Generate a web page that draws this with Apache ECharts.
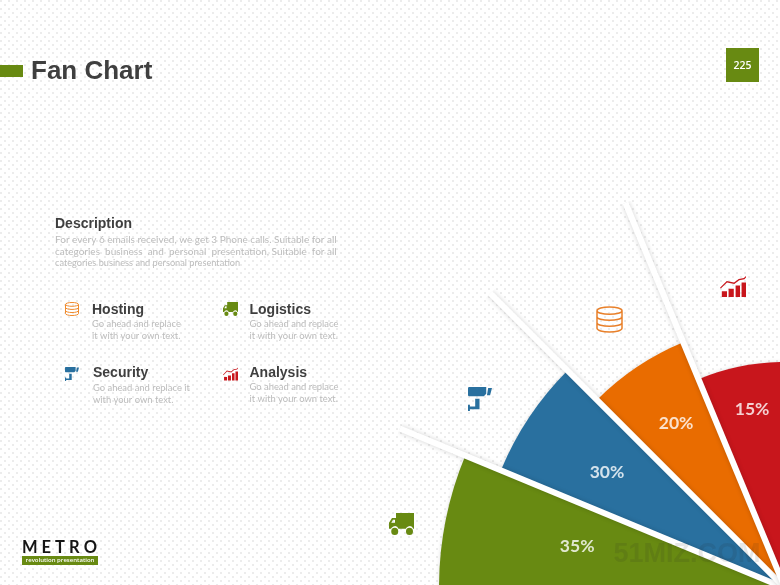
<!DOCTYPE html>
<html>
<head>
<meta charset="utf-8">
<script src="https://cdn.jsdelivr.net/npm/echarts@6/dist/echarts.min.js"></script>
<style>
html,body{margin:0;padding:0;width:780px;height:585px;overflow:hidden;background-color:#fff;
background-image:radial-gradient(circle at 1px 1px,#ececec 0.9px,transparent 1.1px),radial-gradient(circle at 1px 1px,#ececec 0.9px,transparent 1.1px);
background-size:8px 8px,8px 8px;background-position:0 0,4px 4px;}
#c{width:780px;height:585px;}
</style>
</head>
<body>
<div id="c"></div>
<script>
var categories = ['Logistics', 'Security', 'Hosting', 'Analysis'];
var percentages = [35, 30, 20, 15];
var fanLengths = [346, 307.5, 266, 226];
var fanColors = ['#688a12', '#29709f', '#e96c00', '#c8161c'];
var separatorAngles = [22.5, 45, 67.5];
var separatorLength = 417;
var labelRadii = [212, 212.5, 197.8, 182];
var labelAngles = [11.4, 33.1, 56.6, 79.6];
var titleText = 'Fan Chart';
var pageNumber = '225';
var descriptionTitle = 'Description';
var descriptionLines = [
  'For every 6 emails received, we get 3 Phone calls. Suitable for all',
  'categories  business  and  personal  presentation, Suitable  for all',
  'categories business and personal presentation'
];
var legendNames = ['Hosting', 'Logistics', 'Security', 'Analysis'];
var legendLines = [
  ['Go ahead and replace', 'it with your own text.'],
  ['Go ahead and replace', 'it with your own text.'],
  ['Go ahead and replace it', 'with your own text.'],
  ['Go ahead and replace', 'it with your own text.']
];

var truckPath = 'M28 0H100V62H97A16 16 0 0 0 67 62H38A16 16 0 0 0 8 62H0V38L12 20H28ZM9 38H24V26H16ZM23 58A14 14 0 1 1 22.9 58ZM82 58A14 14 0 1 1 81.9 58Z';
var cameraPath = 'M5 3H76V30L66 40H5Q0 40 0 35V8Q0 3 5 3ZM84 7H100L92 36H79ZM30 50H48V93H8V100H0V75H8V82H30Z';
var dbPath = 'M2 16A48 14 0 0 1 98 16A48 14 0 0 1 2 16M2 16V84A48 14 0 0 0 98 84V16M2 39A48 14 0 0 0 98 39M2 62A48 14 0 0 0 98 62';
var chartPath = 'M0 56L26 24L54 31L72 14L92 9L100 0V7L94 15L74 20L55 38L27 31L3 60ZM7 73H27V100H7ZM33 61H53V100H33ZM60 45H77V100H60ZM83 31H100V100H83Z';

var TXT = '#3f3f3f', SUB = '#bcbcbc';
function text(str, x, y, font, fill, align) {
  return { type: 'text', x: x, y: y, silent: true,
    style: { text: str, font: font, fill: fill, align: align || 'left', verticalAlign: 'middle' } };
}
var BOLD = 'bold 14px "Liberation Sans"', BODY = '9.4px Lato';
var graphics = [
  { type: 'rect', shape: { x: 0, y: 65, width: 23, height: 12 }, style: { fill: '#688a12' }, silent: true },
  text(titleText, 31, 72, 'bold 26px "Liberation Sans"', TXT),
  { type: 'rect', shape: { x: 726, y: 48, width: 33, height: 34 }, style: { fill: '#688a12' }, silent: true },
  text(pageNumber, 742.5, 66, '600 10.5px "Open Sans"', '#ffffff', 'center'),
  text(descriptionTitle, 55, 224.5, BOLD, TXT),
  text(descriptionLines[0], 55, 240, '10px Lato', SUB),
  text(descriptionLines[1], 55, 252, '10px Lato', SUB),
  text(descriptionLines[2], 55, 263.5, '9.2px Lato', SUB),
  text('METRO'.split('').join(' '), 22, 547.5, 'bold 16.5px Lato', '#151515'),
  { type: 'rect', shape: { x: 22, y: 556, width: 76, height: 9 }, style: { fill: '#688a12' }, silent: true },
  text('revolution presentation', 60, 560.5, '600 6px "Open Sans"', '#ffffff', 'center')
];
var legendPos = [[92, 310.5, 324, 336], [249.5, 310.5, 323.5, 335.5], [93, 373.5, 387.5, 400], [249.5, 373.5, 387, 399]];
legendNames.forEach(function (n, i) {
  var p = legendPos[i];
  graphics.push(text(n, p[0], p[1], BOLD, TXT));
  graphics.push(text(legendLines[i][0], p[0], p[2], BODY, SUB));
  graphics.push(text(legendLines[i][1], p[0], p[3], BODY, SUB));
});
graphics.push({ type: 'text', x: 687, y: 555, z: 200, silent: true,
  style: { text: '51MIZ.COM', font: 'bold 27px "Liberation Sans"', fill: 'rgba(40,40,40,0.11)', align: 'center', verticalAlign: 'middle' } });

var iconRows = [
  { path: dbPath, box: [65.5, 302.5, 13, 13], color: '#f08a2c', stroke: 1 },
  { path: truckPath, box: [223, 302, 15, 14], color: '#688a12' },
  { path: cameraPath, box: [65, 367, 14, 14], color: '#29709f' },
  { path: chartPath, box: [223, 367.5, 15, 13], color: '#c8161c' },
  { path: truckPath, box: [389, 513, 25, 22], color: '#688a12' },
  { path: cameraPath, box: [468, 387, 24, 24], color: '#29709f' },
  { path: dbPath, box: [597, 307, 25, 25], color: '#e9802a', stroke: 1.5 },
  { path: chartPath, box: [720, 276, 26, 21], color: '#c8161c' }
];

var bandNames = categories.slice();
while (bandNames.length < 16) bandNames.push('');

var series = [{
  type: 'bar', coordinateSystem: 'polar', polarIndex: 0, angleAxisIndex: 0, radiusAxisIndex: 0,
  barWidth: '100%', barCategoryGap: 0, silent: true, z: 2, animation: false,
  data: fanLengths.map(function (v, i) {
    return { value: v, itemStyle: { color: fanColors[i], shadowBlur: 4, shadowColor: 'rgba(0,0,0,0.13)' } };
  })
}];
separatorAngles.forEach(function (a) {
  series.push({
    type: 'line', coordinateSystem: 'polar', polarIndex: 1, angleAxisIndex: 1, radiusAxisIndex: 1,
    data: [[0, a], [separatorLength, a]], symbol: 'none', silent: true, z: 3, animation: false,
    lineStyle: { color: '#ffffff', width: 6, shadowBlur: 5, shadowColor: 'rgba(0,0,0,0.18)' }
  });
});
series.push({
  type: 'scatter', coordinateSystem: 'polar', polarIndex: 1, angleAxisIndex: 1, radiusAxisIndex: 1,
  symbolSize: 0, silent: true, z: 5, animation: false,
  data: percentages.map(function (p, i) { return [labelRadii[i], labelAngles[i], p]; }),
  label: {
    show: true, position: 'inside', color: '#ffffff', fontFamily: 'Lato', fontWeight: 'bold', fontSize: 17.5,
    formatter: function (o) { return o.value[2] + '%'; }
  }
});
series.push({
  type: 'custom', coordinateSystem: 'none', silent: true, z: 6, animation: false,
  data: iconRows.map(function (r, i) { return i; }),
  renderItem: function (params) {
    var r = iconRows[params.dataIndex];
    return { type: 'path',
      shape: { pathData: r.path, layout: 'cover', x: r.box[0], y: r.box[1], width: r.box[2], height: r.box[3] },
      style: r.stroke ? { fill: 'none', stroke: r.color, lineWidth: r.stroke } : { fill: r.color } };
  }
});

var chart = echarts.init(document.getElementById('c'), null, { renderer: 'canvas', width: 780, height: 585 });
chart.setOption({
  backgroundColor: 'transparent',
  animation: false,
  polar: [
    { center: [785, 588], radius: fanLengths[0] },
    { center: [785, 588], radius: separatorLength }
  ],
  angleAxis: [
    { polarIndex: 0, type: 'category', data: bandNames, startAngle: 180, clockwise: true, show: false },
    { polarIndex: 1, type: 'value', min: 0, max: 360, startAngle: 180, clockwise: true, show: false }
  ],
  radiusAxis: [
    { polarIndex: 0, type: 'value', min: 0, max: fanLengths[0], show: false },
    { polarIndex: 1, type: 'value', min: 0, max: separatorLength, show: false }
  ],
  graphic: { elements: graphics },
  series: series
});
</script>
</body>
</html>
